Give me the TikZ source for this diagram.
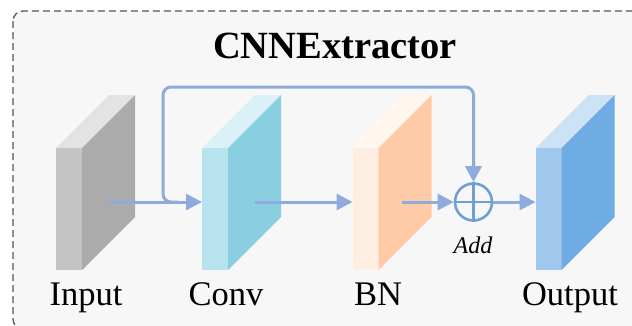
\documentclass[tikz,border=0pt]{standalone}
\usepackage{fontspec}
\setmainfont{Liberation Serif}
\newfontfamily\capfont{Liberation Serif}
\usetikzlibrary{arrows.meta}

% palette
\definecolor{panel}{HTML}{F7F7F7}
\definecolor{framec}{HTML}{555555}
\definecolor{flow}{HTML}{8FAADC}
\definecolor{addc}{HTML}{6F9FD4}
\definecolor{inF}{HTML}{C4C4C4}\definecolor{inS}{HTML}{ABABAB}\definecolor{inT}{HTML}{E3E3E3}
\definecolor{cvF}{HTML}{B7E3EF}\definecolor{cvS}{HTML}{8ACFE0}\definecolor{cvT}{HTML}{DAF2F7}
\definecolor{bnF}{HTML}{FEEEE2}\definecolor{bnS}{HTML}{FECBA6}\definecolor{bnT}{HTML}{FFF6EE}
\definecolor{ouF}{HTML}{9FC8EC}\definecolor{ouS}{HTML}{6FACE3}\definecolor{ouT}{HTML}{CCE3F6}

\tikzset{
  face/.style={rectangle, minimum width=26pt, minimum height=122pt,
               inner sep=0pt, outer sep=0pt, draw=none},
  flowline/.style={draw=flow, line width=3pt,
                   -{Triangle[length=16pt,width=16pt]}},
  caption/.style={anchor=base, inner sep=0pt, font=\capfont\fontsize{34.5}{34.5}\selectfont},
  framebox/.style={draw=framec, line width=1.3pt, dash pattern=on 7pt off 4pt,
                   fill=panel, rounded corners=10pt},
}

% a slab: front face node plus its top and side faces
% #1 name, #2 centre x, #3 front, #4 side, #5 top
\newcommand\slab[5]{%
  \node[face, fill=#3] (#1) at (#2,209) {};
  \fill[#5] (#1.north west) -- ++(53,-53) -- ++(26,0) -- (#1.north east) -- cycle;
  \fill[#4] (#1.north east) -- ++(53,-53) -- ++(0,122) -- (#1.south east) -- cycle;
}

\begin{document}
\begin{tikzpicture}[x=1pt,y=-1pt]
\useasboundingbox (0,0) rectangle (632,325);

% dashed panel, running off the right and bottom edges
\begin{scope}
  \clip (0,0) rectangle (632,325);
  \path[framebox] (13,11) rectangle (660,329);
\end{scope}

\node[anchor=base, inner sep=0pt, font=\capfont\fontsize{38.5}{38.5}\selectfont\bfseries]
  (title) at (335,58) {CNNExtractor};

% feature slabs
\slab{inp}{69}{inF}{inS}{inT}
\slab{conv}{215}{cvF}{cvS}{cvT}
\slab{bn}{365.5}{bnF}{bnS}{bnT}
\slab{out}{548.5}{ouF}{ouS}{ouT}

% captions
\node[caption] (inpL)  at (86,305)  {Input};
\node[caption] (convL) at (226,305) {Conv};
\node[caption] (bnL)   at (378,305) {BN};
\node[caption] (outL)  at (570,305) {Output};

% residual add
\node[circle, draw=addc, line width=2.6pt, minimum size=37pt, inner sep=0pt] (add) at (473.5,202) {};
\draw[addc, line width=2.2pt] (add.north) -- (add.south) (add.west) -- (add.east);
\node[anchor=base, inner sep=0pt, font=\capfont\fontsize{24}{24}\selectfont\itshape] (addL) at (473,253) {Add};

% connectors
\coordinate (inTap)   at (108,202);
\coordinate (convTap) at (255,202);
\coordinate (bnTap)   at (402,202);
\coordinate (br)      at (163,202);
\coordinate (brR)     at (178,202);
\coordinate (skipY)   at (0,87);

\draw[flowline] (inTap) -- (inTap -| conv.west);
\draw[flowline] (convTap) -- (convTap -| bn.west);
\draw[flowline] (bnTap) -- (add.west);
\draw[flowline] (add.east) -- (add.east -| out.west);
\draw[flowline, rounded corners=8pt] (brR) -- (br) |- (skipY -| add.center) -- (add.north);
\end{tikzpicture}
\end{document}
